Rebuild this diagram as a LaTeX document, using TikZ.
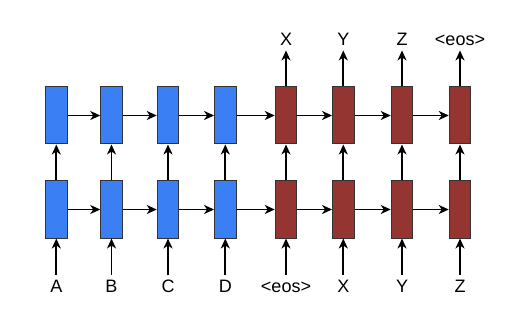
\documentclass[tikz,border=0pt]{standalone}
\usepackage{fontspec}
\setmainfont{Liberation Sans}
\usepackage{xcolor}
\usetikzlibrary{arrows.meta}

\definecolor{encblue}{HTML}{3B7FF5}
\definecolor{decred}{HTML}{943532}
\definecolor{cellline}{HTML}{333333}

\begin{document}
\begin{tikzpicture}[
          x=1pt, y=-1pt,
          enc/.style={draw=cellline, line width=1pt, fill=encblue, minimum width=21.5pt, minimum height=57pt, inner sep=0pt},
          dec/.style={draw=cellline, line width=1pt, fill=decred, minimum width=21.5pt, minimum height=57pt, inner sep=0pt},
          tok/.style={font=\fontsize{18}{18}\selectfont, text height=12.5pt, text depth=0pt, inner sep=5pt},
          arr/.style={-{Stealth[length=10pt,width=9pt,inset=3pt]}, line width=1.9pt}
      ]
        \useasboundingbox (0,0) rectangle (518,320);
        % lower layer
        \node[enc] (encA) at (56.3,209.5) {};
        \node[enc] (encB) at (111.5,209.5) {};
        \node[enc] (encC) at (168,209.5) {};
        \node[enc] (encD) at (225.3,209.5) {};
        \node[dec] (decA) at (286,209.5) {};
        \node[dec] (decB) at (343.3,209.5) {};
        \node[dec] (decC) at (402,209.5) {};
        \node[dec] (decD) at (460,209.5) {};
        % upper layer
        \node[enc] (encAup) at (56.3,115.5) {};
        \node[enc] (encBup) at (111.5,115.5) {};
        \node[enc] (encCup) at (168,115.5) {};
        \node[enc] (encDup) at (225.3,115.5) {};
        \node[dec] (decAup) at (286,115.5) {};
        \node[dec] (decBup) at (343.3,115.5) {};
        \node[dec] (decCup) at (402,115.5) {};
        \node[dec] (decDup) at (460,115.5) {};
        % inputs
        \node[tok] (inA) at (56.3,286) {A};
        \node[tok] (inB) at (111.5,286) {B};
        \node[tok] (inC) at (168,286) {C};
        \node[tok] (inD) at (225.3,286) {D};
        \node[tok] (inEos) at (286,286) {<eos>};
        \node[tok] (inX) at (343.3,286) {X};
        \node[tok] (inY) at (402,286) {Y};
        \node[tok] (inZ) at (460,286) {Z};
        % outputs
        \node[tok] (outX) at (286,39) {X};
        \node[tok] (outY) at (343.3,39) {Y};
        \node[tok] (outZ) at (402,39) {Z};
        \node[tok] (outEos) at (460,39) {<eos>};

        \draw[arr] (inA) -- (encA);
        \draw[arr] (inB) -- (encB);
        \draw[arr] (inC) -- (encC);
        \draw[arr] (inD) -- (encD);
        \draw[arr] (inEos) -- (decA);
        \draw[arr] (inX) -- (decB);
        \draw[arr] (inY) -- (decC);
        \draw[arr] (inZ) -- (decD);

        \draw[arr] (encA) -- (encAup);
        \draw[arr] (encB) -- (encBup);
        \draw[arr] (encC) -- (encCup);
        \draw[arr] (encD) -- (encDup);
        \draw[arr] (decA) -- (decAup);
        \draw[arr] (decB) -- (decBup);
        \draw[arr] (decC) -- (decCup);
        \draw[arr] (decD) -- (decDup);

        \draw[arr] (encA) -- (encB);
        \draw[arr] (encB) -- (encC);
        \draw[arr] (encC) -- (encD);
        \draw[arr] (encD) -- (decA);
        \draw[arr] (decA) -- (decB);
        \draw[arr] (decB) -- (decC);
        \draw[arr] (decC) -- (decD);

        \draw[arr] (encAup) -- (encBup);
        \draw[arr] (encBup) -- (encCup);
        \draw[arr] (encCup) -- (encDup);
        \draw[arr] (encDup) -- (decAup);
        \draw[arr] (decAup) -- (decBup);
        \draw[arr] (decBup) -- (decCup);
        \draw[arr] (decCup) -- (decDup);

        \draw[arr] (decAup) -- (outX);
        \draw[arr] (decBup) -- (outY);
        \draw[arr] (decCup) -- (outZ);
        \draw[arr] (decDup) -- (outEos);
      \end{tikzpicture}
\end{document}
